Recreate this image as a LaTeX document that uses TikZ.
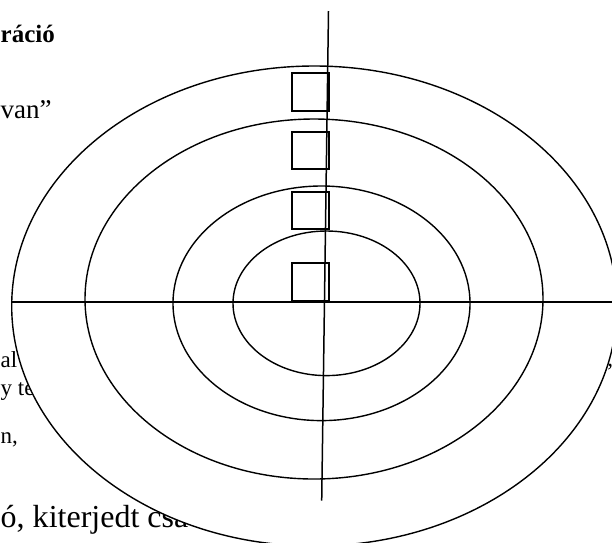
\documentclass[tikz,border=0pt]{standalone}
\usepackage{fontspec}
\setmainfont{Liberation Serif}
\begin{document}
\begin{tikzpicture}[x=1pt, y=-1pt,
  line width=1.5pt,
  box/.style={draw, minimum size=37.4pt, inner sep=0pt, line width=1.8pt},
  frag/.style={anchor=base west, inner sep=0pt, font=\fontsize{23}{27}\selectfont},
  bigfrag/.style={anchor=base west, inner sep=0pt, font=\fontsize{32}{38}\selectfont},
  ring/.style={draw, line width=1.4pt}
]
\useasboundingbox (0,0) rectangle (612,542);
\clip (0,0) rectangle (612,542);

% Text left over from the page
\node[bigfrag, font=\bfseries\fontsize{25}{30}\selectfont] (title) at (0,42) {ráció};
\node[bigfrag, font=\fontsize{27}{32}\selectfont] (quote) at (0,118) {van”};
\node[frag] (lineA) at (0,367) {al};
\node[frag] (lineB) at (0,395) {y té};
\node[frag] (lineC) at (0,443) {n,};
\node[frag] (lineD) at (606.5,366) {,};
\node[bigfrag] (lineE) at (0,527) {ó, kiterjedt csa};

% Rings
\filldraw[ring, fill=white] (314.3,306) ellipse [x radius=302.6pt, y radius=240pt];
\draw[ring] (314,299) ellipse [x radius=229pt, y radius=180pt];
\draw[ring] (321.5,303.3) ellipse [x radius=148.5pt, y radius=117.3pt];
\draw[ring] (326.5,303.3) ellipse [x radius=93.5pt, y radius=72.3pt];

% Axes
\coordinate (htl) at (11.7,302);
\coordinate (htr) at (612,302);
\coordinate (vtop) at (328.5,11);
\coordinate (vbot) at (321.7,500.7);
\draw (htl) -- (htr);
\draw (vtop) -- (vbot);

% Boxes on the axis
\foreach \i/\y in {1/92, 2/150.3, 3/210.3, 4/282}
  \node[box] (sq\i) at (310.4,\y) {};
\end{tikzpicture}
\end{document}
